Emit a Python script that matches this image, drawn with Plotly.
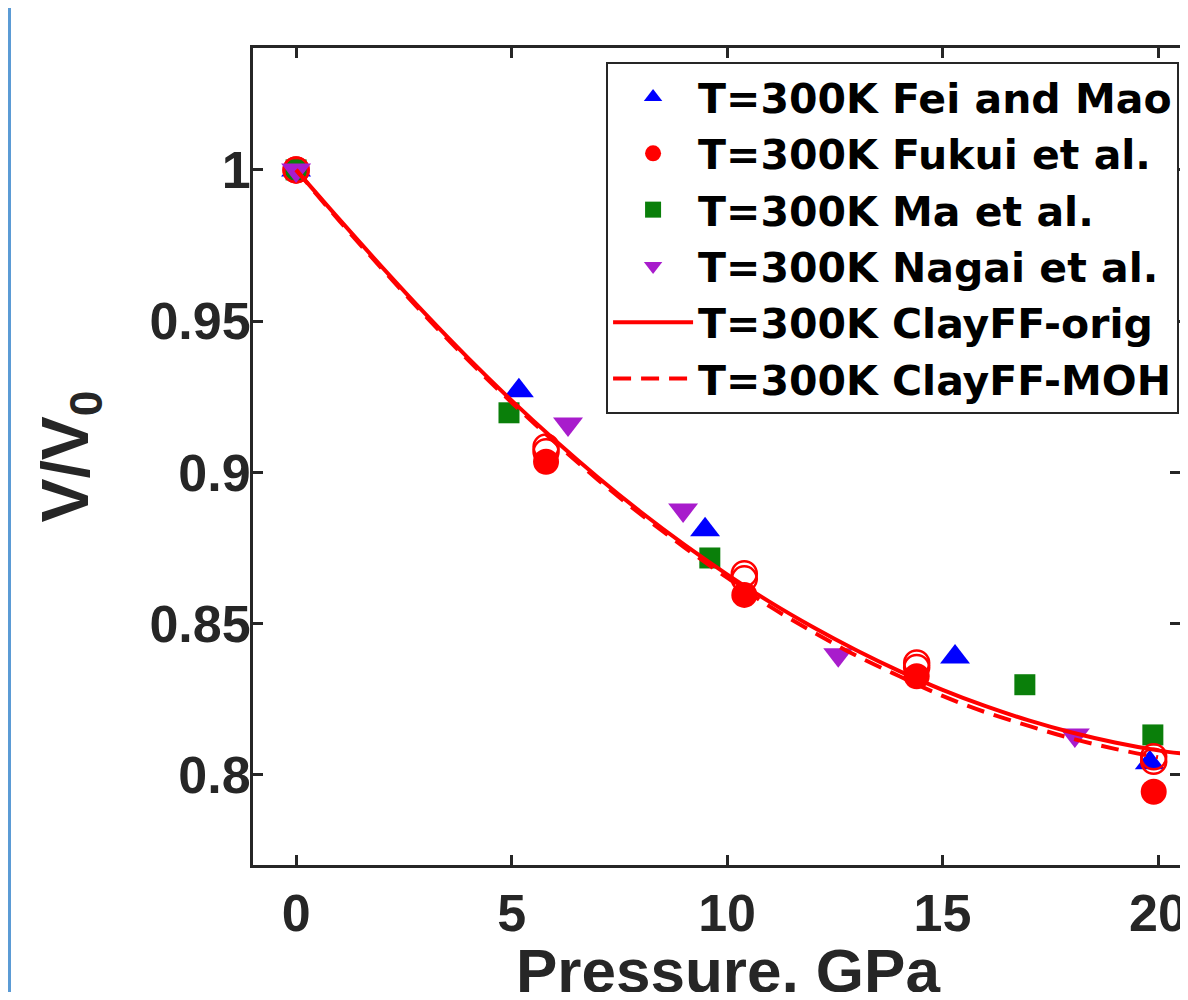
import plotly.graph_objects as go

# Experimental data, T=300K (pressure in GPa, V/V0)
fei_p = [0, 5.17, 9.49, 15.29, 19.81]
fei_v = [1.0, 0.927, 0.881, 0.839, 0.804]

fukui_p = [0, 5.8, 10.4, 14.4, 19.9]
fukui_v = [1.0, 0.9035, 0.8595, 0.8326, 0.7944]

ma_p = [0, 4.94, 9.6, 16.91, 19.88]
ma_v = [1.0, 0.9197, 0.8717, 0.8298, 0.8132]

nagai_p = [0, 6.31, 8.98, 12.58, 18.07]
nagai_v = [1.0, 0.916, 0.8876, 0.8397, 0.8132]

# Simulated points (open circles)
sim_p = [0, 5.8, 10.4, 14.4, 19.9]
orig_pts_v = [1.0, 0.9084, 0.8665, 0.8370, 0.8060]
moh_pts_v = [1.0, 0.9068, 0.8648, 0.8355, 0.8045]

# Fitted curves
curve_p = [0, 1, 2, 3, 4, 5, 6, 7, 8, 9, 10, 11, 12, 13, 14, 15, 16, 17, 18, 19, 20, 20.7]
orig_v = [1.0, 0.9837, 0.9678, 0.9524, 0.9377, 0.9238, 0.9107, 0.8984, 0.8869, 0.8762,
          0.8663, 0.8571, 0.8488, 0.8412, 0.8343, 0.8281, 0.8227, 0.8180, 0.8140, 0.8107,
          0.8081, 0.8068]
moh_v = [1.0, 0.9832, 0.9672, 0.9517, 0.9370, 0.9231, 0.9100, 0.8976, 0.8861, 0.8753,
         0.8652, 0.8556, 0.8472, 0.8394, 0.8326, 0.8261, 0.8207, 0.8162, 0.8120, 0.8086,
         0.8058]

x_ticks = [0, 5, 10, 15, 20]
y_ticks = [0.8, 0.85, 0.9, 0.95, 1.0]
y_tick_text = ["0.8", "0.85", "0.9", "0.95", "1"]
x_title = "Pressure, GPa"
y_title = "V/V<sub>0</sub>"

X_RANGE = [-1, 20.51]
Y_RANGE = [0.7702, 1.0403]

AXIS_COLOR = "#262626"
FONT = "Liberation Sans, Arial, sans-serif"
LEGEND_FONT = "DejaVu Sans, sans-serif"

fig = go.Figure()

fig.add_trace(go.Scatter(
    name="T=300K Fei and Mao", x=fei_p, y=fei_v, mode="markers",
    marker=dict(symbol="triangle-up", size=26, color="#0000ff"),
))
fig.add_trace(go.Scatter(
    name="T=300K Fukui et al.", x=fukui_p, y=fukui_v, mode="markers",
    marker=dict(symbol="circle", size=26, color="#ff0000"),
))
fig.add_trace(go.Scatter(
    name="T=300K Ma et al.", x=ma_p, y=ma_v, mode="markers",
    marker=dict(symbol="square", size=21, color="#0a7f0a"),
))

# open circles for the two simulations
for vals in (orig_pts_v, moh_pts_v):
    fig.add_trace(go.Scatter(
        x=sim_p, y=vals, mode="markers", showlegend=False, hoverinfo="skip",
        marker=dict(symbol="circle-open", size=25, color="#ff0000",
                    line=dict(width=2.5, color="#ff0000")),
    ))

fig.add_trace(go.Scatter(
    name="T=300K Nagai et al.", x=nagai_p, y=nagai_v, mode="markers",
    marker=dict(symbol="triangle-down", size=26, color="#a81ccc"),
))

fig.add_trace(go.Scatter(
    name="T=300K ClayFF-orig", x=curve_p, y=orig_v, mode="lines",
    line=dict(color="#ff0000", width=4, shape="spline"),
))
fig.add_trace(go.Scatter(
    name="T=300K ClayFF-MOH", x=curve_p[:len(moh_v)], y=moh_v, mode="lines",
    line=dict(color="#ff0000", width=4, shape="spline", dash="18px,10px"),
))

# dummy trace so the right-hand tick axis gets drawn
fig.add_trace(go.Scatter(x=[], y=[], yaxis="y2", showlegend=False, hoverinfo="skip"))

# thin blue rule at the very left of the page
fig.add_shape(
    type="line", xref="paper", yref="paper",
    x0=(1.5 - 245) / 927, x1=(1.5 - 245) / 927,
    y0=-130 / 817, y1=1 + 42 / 817,
    line=dict(color="#5b9bd5", width=3),
)

# x title as an annotation so it can sit low near the page edge
fig.add_annotation(
    text=x_title, xref="paper", yref="paper", x=0.512, y=-0.1297,
    xanchor="center", yanchor="middle", showarrow=False,
    font=dict(size=62, color="#262626", weight="bold"),
)

fig.update_layout(
    template="none",
    width=1172, height=984,
    margin=dict(l=245, r=0, t=40, b=127, autoexpand=False),
    paper_bgcolor="white", plot_bgcolor="white",
    font=dict(family=FONT, size=50, color="#262626", weight="bold"),
    showlegend=True,
    legend=dict(
        x=0.999, y=0.983, xanchor="right", yanchor="top",
        bgcolor="white", bordercolor=AXIS_COLOR, borderwidth=2,
        font=dict(family=LEGEND_FONT, size=41, color="black", weight="bold"),
        itemwidth=80,
    ),
    xaxis=dict(
        range=X_RANGE, tickvals=x_ticks, automargin=False,
        ticks="inside", ticklen=10, tickwidth=3, tickcolor=AXIS_COLOR,
        showline=True, linewidth=3, linecolor=AXIS_COLOR, mirror="ticks",
        showgrid=False, zeroline=False, ticklabelstandoff=1,
        ticklabeloverflow="allow",
        tickfont=dict(size=52),
    ),
    yaxis=dict(
        range=Y_RANGE, tickvals=y_ticks, ticktext=y_tick_text, automargin=False,
        ticks="inside", ticklen=10, tickwidth=3, tickcolor=AXIS_COLOR,
        showline=True, linewidth=3, linecolor=AXIS_COLOR, mirror=False,
        showgrid=False, zeroline=False, ticklabelstandoff=-11,
        tickfont=dict(size=52),
        title=dict(text=y_title, font=dict(size=66), standoff=40),
    ),
    yaxis2=dict(
        range=Y_RANGE, tickvals=y_ticks, overlaying="y", side="right",
        anchor="x", automargin=False, showticklabels=False, showline=False,
        ticks="inside", ticklen=10, tickwidth=3, tickcolor=AXIS_COLOR,
        showgrid=False, zeroline=False,
    ),
)

fig.write_html("out.html")
